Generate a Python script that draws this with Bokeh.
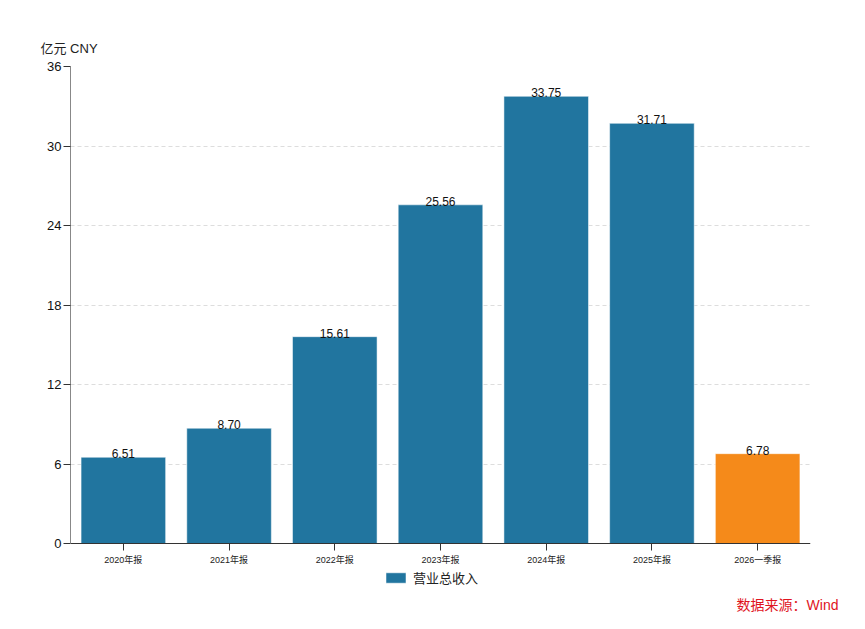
from bokeh.plotting import figure
from bokeh.models import ColumnDataSource, FactorRange, Range1d, FixedTicker, Legend, LegendItem, Title
from bokeh.core.properties import value
from bokeh.embed import file_html
from bokeh.resources import INLINE

categories = ["2020年报", "2021年报", "2022年报", "2023年报", "2024年报", "2025年报", "2026一季报"]
revenue = [6.51, 8.70, 15.61, 25.56, 33.75, 31.71, 6.78]
bar_colors = ["#21759F"] * 6 + ["#F58A1A"]
y_ticks = [0, 6, 12, 18, 24, 30, 36]
series_name = "营业总收入"
unit_label = "亿元  CNY"
source_label = "数据来源：Wind"

FONT = "Helvetica, 'Liberation Sans', 'Noto Sans CJK SC', sans-serif"

src = ColumnDataSource(dict(
    cat=categories,
    val=revenue,
    color=bar_colors,
    label=["%.2f" % v for v in revenue],
))

p = figure(
    width=865, height=629,
    x_range=FactorRange(*categories, range_padding=0),
    y_range=Range1d(-3.47, 36),
    output_backend="svg", toolbar_location=None,
    min_border_left=70, min_border_right=55, min_border_top=66, min_border_bottom=40,
)
p.outline_line_color = None
p.background_fill_color = "white"
p.border_fill_color = "white"

t = Title(text=unit_label, align="left", offset=-30, text_font_size="13px",
          text_font_style="normal", text_color="#222222", text_font=FONT,
          standoff=22)
p.add_layout(t, "above")

bars = p.vbar(x="cat", top="val", width=0.8, source=src, fill_color="color",
              line_color="white", line_alpha=0.5, line_width=1)

p.text(x="cat", y="val", text="label", source=src, text_align="center",
       text_baseline="bottom", text_font_size="12px", text_color="#111111",
       text_font=value(FONT), y_offset=1)

p.xgrid.grid_line_color = None
p.ygrid.ticker = FixedTicker(ticks=y_ticks)
p.ygrid.grid_line_color = "#dddddd"
p.ygrid.grid_line_dash = "4 3"
p.ygrid.grid_line_width = 1

p.yaxis.ticker = FixedTicker(ticks=y_ticks)
p.yaxis.bounds = (0, 36)
p.yaxis.axis_line_color = "#888888"
p.yaxis.major_tick_line_color = "#333333"
p.yaxis.major_tick_out = 7
p.yaxis.major_tick_in = 0
p.yaxis.minor_tick_line_color = None
p.yaxis.major_label_text_font_size = "13px"
p.yaxis.major_label_text_color = "#111111"
p.yaxis.major_label_text_font = FONT
p.yaxis.major_label_standoff = 2

p.xaxis.fixed_location = 0
p.xaxis.axis_line_color = "#333333"
p.xaxis.major_tick_line_color = "#333333"
p.xaxis.major_tick_out = 7
p.xaxis.major_tick_in = 0
p.xaxis.major_label_text_font_size = "9px"
p.xaxis.major_label_text_color = "#222222"
p.xaxis.major_label_text_font = FONT
p.xaxis.major_label_standoff = 4

legend = Legend(items=[LegendItem(label=series_name, renderers=[bars], index=0)],
                location=(313, 2), orientation="horizontal",
                label_text_font_size="13px", label_text_font=FONT, label_text_color="#222222",
                glyph_width=25, glyph_height=13, border_line_color=None,
                background_fill_alpha=0, padding=0, margin=0, label_standoff=5)
p.add_layout(legend, "center")

spacer = Title(text=" ", text_font_size="3px", standoff=0)
p.add_layout(spacer, "below")

s = Title(text=source_label, align="right", offset=-28, text_font_size="14px",
          text_font_style="normal", text_color="#E0141E", text_font=FONT, standoff=0)
p.add_layout(s, "below")

open("out.html", "w").write(file_html(p, INLINE))
